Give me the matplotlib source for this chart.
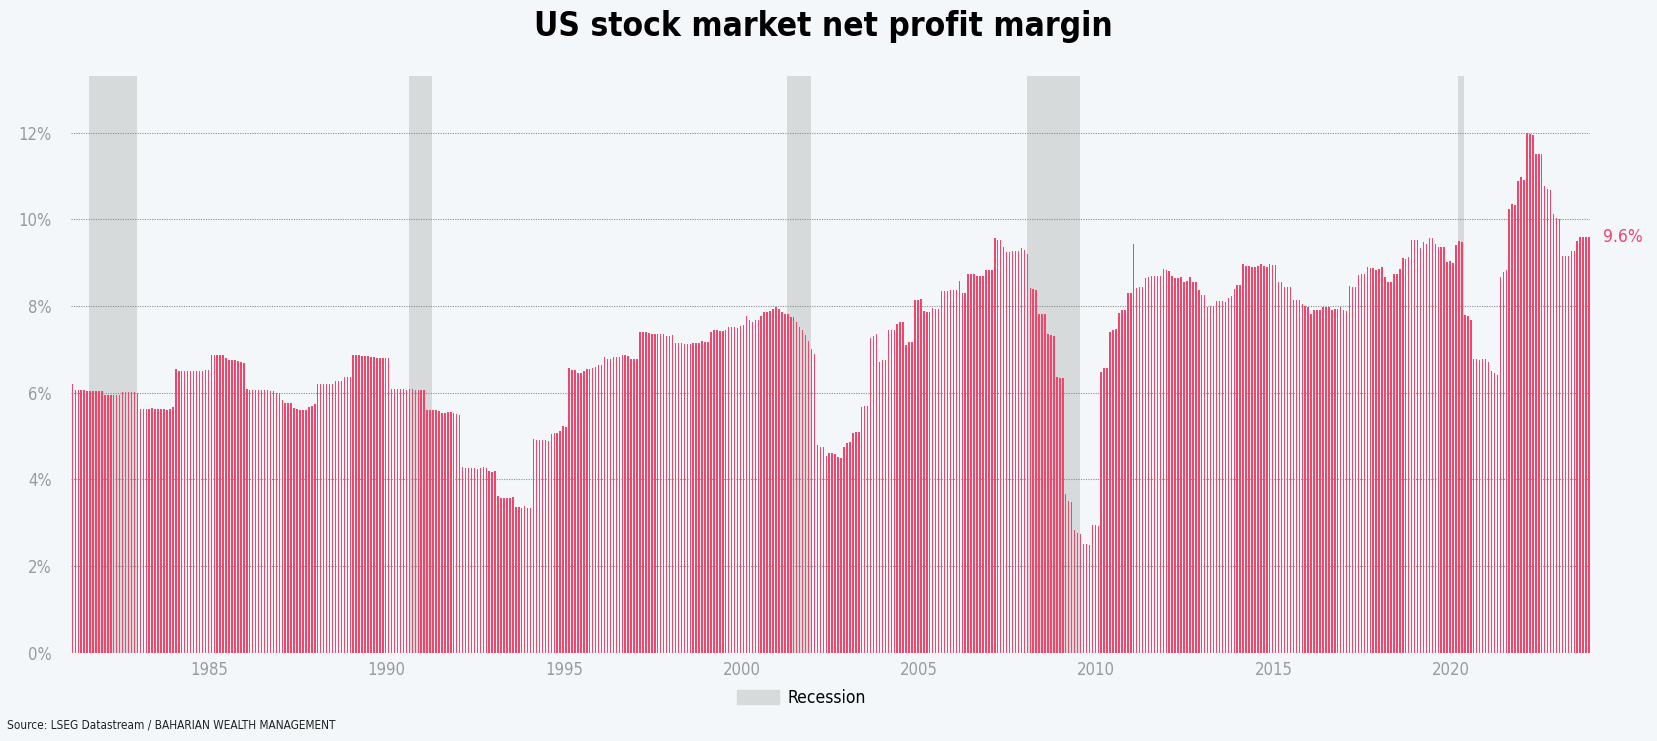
import numpy as np
import pandas as pd
import matplotlib
matplotlib.use("Agg")
from matplotlib import pyplot as plt
from matplotlib.patches import Patch

# US stock market net profit margin (%), monthly, Jan 1981 - Oct 2023
margin_1980s = [
    6.20, 6.07, 6.07, 6.07, 6.07, 6.04, 6.04, 6.04, 6.04, 6.04, 6.04, 5.94,  # 1981
    5.94, 5.94, 5.94, 5.94, 5.94, 6.02, 6.02, 6.02, 6.02, 6.02, 6.00, 5.63,  # 1982
    5.63, 5.63, 5.63, 5.65, 5.63, 5.63, 5.63, 5.63, 5.60, 5.63, 5.68, 6.54,  # 1983
    6.49, 6.49, 6.49, 6.49, 6.49, 6.49, 6.49, 6.49, 6.50, 6.53, 6.53, 6.86,  # 1984
    6.86, 6.86, 6.86, 6.86, 6.80, 6.75, 6.75, 6.75, 6.73, 6.70, 6.68, 6.09,  # 1985
    6.07, 6.07, 6.07, 6.07, 6.07, 6.07, 6.07, 6.04, 6.04, 5.99, 6.00, 5.82,  # 1986
    5.75, 5.75, 5.75, 5.65, 5.63, 5.59, 5.59, 5.59, 5.68, 5.70, 5.73, 6.21,  # 1987
    6.19, 6.19, 6.19, 6.19, 6.21, 6.28, 6.28, 6.28, 6.35, 6.37, 6.37, 6.86,  # 1988
    6.86, 6.86, 6.85, 6.85, 6.85, 6.82, 6.82, 6.80, 6.80, 6.80, 6.80, 6.80,  # 1989
]
margin_1990s = [
    6.09, 6.09, 6.09, 6.09, 6.09, 6.07, 6.09, 6.09, 6.07, 6.05, 6.05, 6.05,  # 1990
    5.60, 5.60, 5.60, 5.60, 5.57, 5.54, 5.52, 5.55, 5.55, 5.52, 5.50, 5.48,  # 1991
    4.28, 4.26, 4.26, 4.26, 4.26, 4.24, 4.26, 4.28, 4.25, 4.19, 4.17, 4.19,  # 1992
    3.62, 3.57, 3.57, 3.57, 3.57, 3.59, 3.35, 3.35, 3.33, 3.38, 3.33, 3.33,  # 1993
    4.92, 4.90, 4.90, 4.90, 4.90, 4.88, 5.05, 5.07, 5.07, 5.12, 5.23, 5.20,  # 1994
    6.56, 6.52, 6.52, 6.45, 6.45, 6.49, 6.54, 6.54, 6.56, 6.59, 6.64, 6.64,  # 1995
    6.82, 6.78, 6.78, 6.82, 6.82, 6.82, 6.88, 6.88, 6.85, 6.78, 6.78, 6.78,  # 1996
    7.41, 7.39, 7.39, 7.37, 7.35, 7.35, 7.35, 7.36, 7.36, 7.31, 7.31, 7.33,  # 1997
    7.14, 7.14, 7.14, 7.12, 7.12, 7.12, 7.14, 7.14, 7.14, 7.19, 7.17, 7.17,  # 1998
    7.41, 7.44, 7.44, 7.43, 7.43, 7.45, 7.51, 7.52, 7.52, 7.50, 7.54, 7.57,  # 1999
]
margin_2000s = [
    7.76, 7.67, 7.64, 7.67, 7.67, 7.78, 7.86, 7.86, 7.88, 7.93, 7.98, 7.93,  # 2000
    7.86, 7.81, 7.81, 7.74, 7.74, 7.64, 7.52, 7.44, 7.34, 7.19, 7.00, 6.90,  # 2001
    4.80, 4.75, 4.75, 4.53, 4.61, 4.61, 4.59, 4.51, 4.49, 4.74, 4.83, 4.86,  # 2002
    5.07, 5.08, 5.08, 5.66, 5.69, 5.69, 7.26, 7.31, 7.35, 6.70, 6.76, 6.76,  # 2003
    7.45, 7.45, 7.45, 7.59, 7.62, 7.64, 7.09, 7.17, 7.17, 8.15, 8.15, 8.17,  # 2004
    7.88, 7.86, 7.86, 7.96, 7.94, 7.94, 8.35, 8.35, 8.35, 8.38, 8.38, 8.38,  # 2005
    8.57, 8.29, 8.29, 8.74, 8.74, 8.74, 8.69, 8.69, 8.69, 8.83, 8.83, 8.83,  # 2006
    9.58, 9.53, 9.53, 9.36, 9.24, 9.24, 9.28, 9.28, 9.28, 9.34, 9.30, 9.21,  # 2007
    8.42, 8.40, 8.36, 7.81, 7.81, 7.81, 7.35, 7.33, 7.30, 6.36, 6.33, 6.33,  # 2008
    3.67, 3.49, 3.47, 2.82, 2.76, 2.73, 2.51, 2.51, 2.49, 2.94, 2.94, 2.92,  # 2009
]
margin_2010s = [
    6.47, 6.57, 6.57, 7.40, 7.45, 7.47, 7.83, 7.90, 7.90, 8.29, 8.31, 9.43,  # 2010
    8.42, 8.45, 8.45, 8.64, 8.66, 8.69, 8.69, 8.69, 8.69, 8.86, 8.83, 8.81,  # 2011
    8.69, 8.64, 8.64, 8.66, 8.56, 8.58, 8.66, 8.56, 8.56, 8.36, 8.25, 8.25,  # 2012
    7.98, 8.00, 8.00, 8.12, 8.12, 8.12, 8.10, 8.19, 8.22, 8.40, 8.48, 8.48,  # 2013
    8.96, 8.93, 8.93, 8.89, 8.89, 8.92, 8.96, 8.93, 8.90, 8.96, 8.95, 8.95,  # 2014
    8.56, 8.56, 8.45, 8.45, 8.45, 8.14, 8.14, 8.14, 8.04, 8.00, 7.98, 7.82,  # 2015
    7.90, 7.90, 7.90, 7.98, 7.98, 7.98, 7.90, 7.93, 7.93, 7.98, 7.90, 7.88,  # 2016
    8.47, 8.45, 8.45, 8.72, 8.74, 8.74, 8.90, 8.88, 8.88, 8.84, 8.86, 8.90,  # 2017
    8.68, 8.56, 8.56, 8.75, 8.74, 8.85, 9.10, 9.09, 9.14, 9.52, 9.52, 9.52,  # 2018
    9.34, 9.47, 9.43, 9.57, 9.57, 9.43, 9.37, 9.37, 9.37, 9.01, 9.03, 9.00,  # 2019
]
margin_2020s = [
    9.42, 9.50, 9.47, 7.80, 7.77, 7.67, 6.78, 6.78, 6.76, 6.78, 6.78, 6.70,  # 2020
    6.50, 6.45, 6.40, 8.66, 8.78, 8.84, 10.25, 10.36, 10.33, 10.88, 10.98, 10.92,  # 2021
    12.00, 11.98, 11.94, 11.51, 11.51, 11.51, 10.78, 10.71, 10.67, 10.13, 10.04, 10.00,  # 2022
    9.16, 9.16, 9.16, 9.27, 9.27, 9.51, 9.59, 9.59, 9.59, 9.59,  # 2023
]

# NBER recessions (first month, last month)
recessions = [("1981-07", "1982-11"), ("1990-07", "1991-03"), ("2001-03", "2001-11"),
              ("2007-12", "2009-06"), ("2020-02", "2020-04")]

margin = np.array(margin_1980s + margin_1990s + margin_2000s + margin_2010s + margin_2020s)
months = pd.date_range("1981-01-01", periods=len(margin), freq="MS")


def to_x(d):
    d = pd.Timestamp(d)
    return d.year + (d.month - 1) / 12 + 0.12


x = np.array([to_x(d) for d in months])

BG = "#f3f7fa"
RED = "#f2456b"
GREY = "#d6dadb"
plt.rcParams["font.family"] = ["DejaVu Sans"]
plt.rcParams["font.stretch"] = "condensed"

fig = plt.figure(figsize=(16.57, 7.41), dpi=100, facecolor=BG)
ax = fig.add_axes([0.0431, 0.1194, 0.9165, 0.778])
ax.set_facecolor(BG)

for start, end in recessions:
    ax.axvspan(to_x(start), to_x(end), color=GREY, lw=0, zorder=1)

ax.bar(x, margin, width=0.5 / 12, align="edge", color=RED, lw=0, zorder=3)

ax.set_xlim(x[0] - 0.005, x[-1] + 0.05)
ax.set_ylim(0, 13.31)
ax.set_yticks(np.arange(0, 13, 2))
ax.set_yticklabels([f"{t}%" for t in range(0, 13, 2)])
ax.set_xticks(range(1985, 2021, 5))
ax.grid(axis="y", color="#8e8e8e", linestyle=(0, (1, 1.2)), lw=0.8, zorder=2)
ax.tick_params(length=0, labelsize=12, labelcolor="#9a9a9a")
ax.tick_params(axis="y", pad=14)
ax.tick_params(axis="x", pad=6)
for s in ax.spines.values():
    s.set_visible(False)

ax.annotate(f"{margin[-1]:.1f}%", xy=(x[-1] + 0.05, margin[-1]), xytext=(9, 0),
            textcoords="offset points", va="center", ha="left", fontsize=12.5,
            color=RED, annotation_clip=False)

fig.text(0.497, 0.952, "US stock market net profit margin", ha="center", va="baseline",
         fontsize=24, fontweight="heavy", color="black")

fig.legend(handles=[Patch(color=GREY, label="Recession")], loc="center",
           bbox_to_anchor=(0.4837, 0.058), frameon=False, fontsize=12.5,
           handlelength=2.4, handleheight=0.8, handletextpad=0.5)

fig.text(0.004, 0.022, "Source: LSEG Datastream / BAHARIAN WEALTH MANAGEMENT",
         fontsize=8.5, color="#222222", va="center")

fig.savefig("out.png", dpi=100, facecolor=BG)
